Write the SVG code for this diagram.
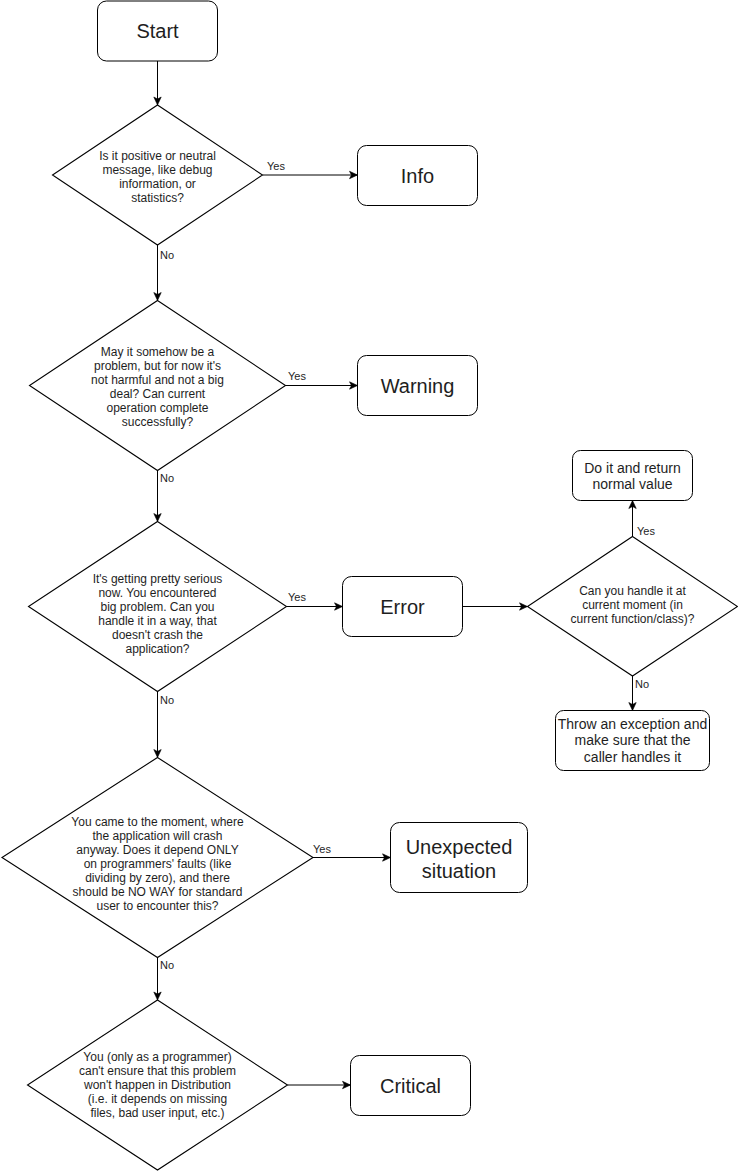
<svg xmlns="http://www.w3.org/2000/svg" width="738" height="1171" viewBox="0 0 738 1171">
  <style>
    .box { fill: #ffffff; stroke: #000000; stroke-width: 1; }
    .dia { fill: #ffffff; stroke: #000000; stroke-width: 1.1; stroke-linejoin: miter; }
    .edge { fill: none; stroke: #000000; stroke-width: 1; marker-end: url(#arrow); }
    .plain { fill: none; stroke: #000000; stroke-width: 1; }
    text { font-family: "Liberation Sans", Arial, Helvetica, sans-serif; fill: #1e1e1e; text-anchor: middle; }
    .big { font-size: 20px; }
    .mid { font-size: 14px; }
    .q { font-size: 12px; }
    .lbl { font-size: 11px; text-anchor: start; }
  </style>
  <defs>
    <marker id="arrow" markerUnits="userSpaceOnUse" markerWidth="10" markerHeight="10" viewBox="0 0 10 10" refX="9" refY="5" orient="auto">
      <path d="M1,1.3 L9,5 L1,8.7 L3,5 Z" fill="#000000" stroke="#000000" stroke-width="0.6"/>
    </marker>
  </defs>
  <rect width="738" height="1171" fill="#ffffff"/>

  <!-- connectors -->
  <g id="connectors">
    <path class="edge" d="M157.5,61 V105"/>
    <path class="edge" d="M262.5,175 H357.5"/>
    <path class="edge" d="M157.5,245 V300.5"/>
    <path class="edge" d="M285.5,385.5 H357.5"/>
    <path class="edge" d="M157.5,470.5 V521.5"/>
    <path class="edge" d="M286.5,606.5 H342.5"/>
    <path class="edge" d="M462.5,606.5 H527.5"/>
    <path class="edge" d="M632.5,536.5 V500.5"/>
    <path class="edge" d="M632.5,676 V710.5"/>
    <path class="edge" d="M157.5,691.5 V757.5"/>
    <path class="edge" d="M313,857.5 H390.5"/>
    <path class="edge" d="M157.5,957.5 V1000"/>
    <path class="edge" d="M287.5,1085 H350.5"/>

    <text class="lbl" x="267" y="170">Yes</text>
    <text class="lbl" x="160" y="258.5">No</text>
    <text class="lbl" x="288" y="380">Yes</text>
    <text class="lbl" x="160" y="482">No</text>
    <text class="lbl" x="288" y="601">Yes</text>
    <text class="lbl" x="160" y="704">No</text>
    <text class="lbl" x="637" y="535">Yes</text>
    <text class="lbl" x="635" y="688">No</text>
    <text class="lbl" x="313" y="853">Yes</text>
    <text class="lbl" x="160" y="969">No</text>
  </g>

  <!-- nodes -->
  <g id="start">
    <rect class="box" x="97.5" y="1" width="120" height="60" rx="9"/>
    <text class="big" x="157.5" y="38">Start</text>
  </g>

  <g id="q-info">
    <polygon class="dia" points="157.5,105 262.5,175 157.5,245 52.5,175"/>
    <text class="q" x="157.5" y="160">Is it positive or neutral</text>
    <text class="q" x="157.5" y="174">message, like debug</text>
    <text class="q" x="157.5" y="188">information, or</text>
    <text class="q" x="157.5" y="202">statistics?</text>
  </g>

  <g id="info">
    <rect class="box" x="357.5" y="145.5" width="120" height="60" rx="9"/>
    <text class="big" x="417.5" y="182.5">Info</text>
  </g>

  <g id="q-warning">
    <polygon class="dia" points="157.5,300.5 285.5,385.5 157.5,470.5 29.5,385.5"/>
    <text class="q" x="157.5" y="356">May it somehow be a</text>
    <text class="q" x="157.5" y="370">problem, but for now it's</text>
    <text class="q" x="157.5" y="384">not harmful and not a big</text>
    <text class="q" x="157.5" y="398">deal? Can current</text>
    <text class="q" x="157.5" y="412">operation complete</text>
    <text class="q" x="157.5" y="426">successfully?</text>
  </g>

  <g id="warning">
    <rect class="box" x="357.5" y="355.5" width="120" height="60" rx="9"/>
    <text class="big" x="417.5" y="393">Warning</text>
  </g>

  <g id="q-error">
    <polygon class="dia" points="157.5,521.5 286.5,606.5 157.5,691.5 28.5,606.5"/>
    <text class="q" x="157.5" y="583">It's getting pretty serious</text>
    <text class="q" x="157.5" y="597">now. You encountered</text>
    <text class="q" x="157.5" y="611">big problem. Can you</text>
    <text class="q" x="157.5" y="625">handle it in a way, that</text>
    <text class="q" x="157.5" y="639">doesn't crash the</text>
    <text class="q" x="157.5" y="653">application?</text>
  </g>

  <g id="error">
    <rect class="box" x="342.5" y="576.5" width="120" height="60" rx="9"/>
    <text class="big" x="402.5" y="614">Error</text>
  </g>

  <g id="q-handle">
    <polygon class="dia" points="632.5,536.5 737.5,606.5 632.5,676 527.5,606.5"/>
    <text class="q" x="632.5" y="594.5">Can you handle it at</text>
    <text class="q" x="632.5" y="608.5">current moment (in</text>
    <text class="q" x="632.5" y="622.5">current function/class)?</text>
  </g>

  <g id="do-it">
    <rect class="box" x="572.5" y="450.5" width="120" height="50" rx="8"/>
    <text class="mid" x="632.5" y="473">Do it and return</text>
    <text class="mid" x="632.5" y="489">normal value</text>
  </g>

  <g id="throw">
    <rect class="box" x="555.5" y="710.5" width="154" height="60" rx="8"/>
    <text class="mid" x="632.5" y="728.5">Throw an exception and</text>
    <text class="mid" x="632.5" y="745">make sure that the</text>
    <text class="mid" x="632.5" y="761.5">caller handles it</text>
  </g>

  <g id="q-unexpected">
    <polygon class="dia" points="157.5,757.5 313,857.5 157.5,957.5 2,857.5"/>
    <text class="q" x="157.5" y="826">You came to the moment, where</text>
    <text class="q" x="157.5" y="840">the application will crash</text>
    <text class="q" x="157.5" y="854">anyway. Does it depend ONLY</text>
    <text class="q" x="157.5" y="868">on programmers' faults (like</text>
    <text class="q" x="157.5" y="882">dividing by zero), and there</text>
    <text class="q" x="157.5" y="896">should be NO WAY for standard</text>
    <text class="q" x="157.5" y="910">user to encounter this?</text>
  </g>

  <g id="unexpected">
    <rect class="box" x="390.5" y="822.5" width="137" height="70" rx="9"/>
    <text class="big" x="459" y="853.5">Unexpected</text>
    <text class="big" x="459" y="877.5">situation</text>
  </g>

  <g id="q-critical">
    <polygon class="dia" points="157.5,1000 287.5,1085 157.5,1170 27.5,1085"/>
    <text class="q" x="157.5" y="1061">You (only as a programmer)</text>
    <text class="q" x="157.5" y="1075">can't ensure that this problem</text>
    <text class="q" x="157.5" y="1089">won't happen in Distribution</text>
    <text class="q" x="157.5" y="1103">(i.e. it depends on missing</text>
    <text class="q" x="157.5" y="1117">files, bad user input, etc.)</text>
  </g>

  <g id="critical">
    <rect class="box" x="350.5" y="1055.5" width="120" height="60" rx="9"/>
    <text class="big" x="410.5" y="1092.5">Critical</text>
  </g>
</svg>
